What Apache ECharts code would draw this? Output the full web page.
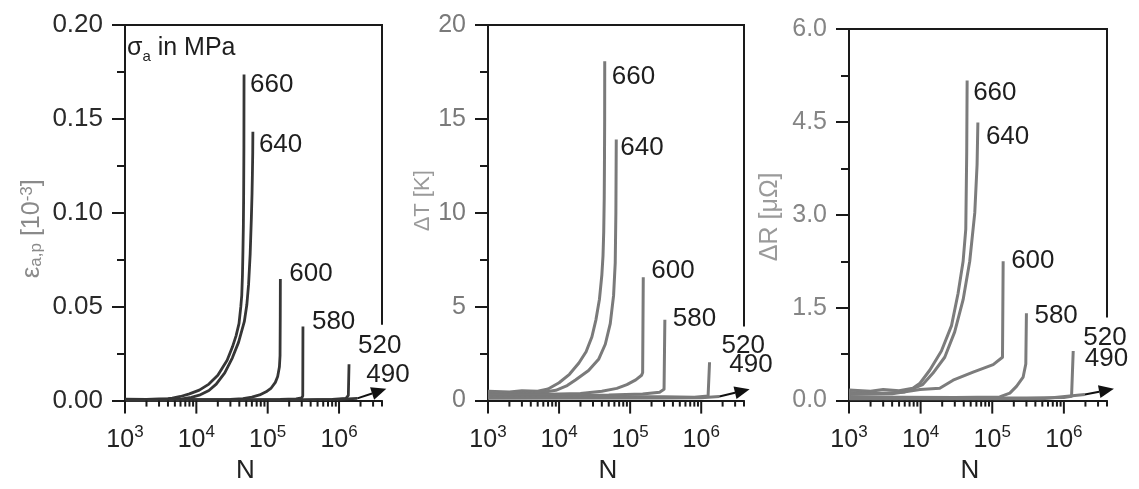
<!DOCTYPE html>
<html><head><meta charset="utf-8">
<script src="https://cdn.jsdelivr.net/npm/echarts@6/dist/echarts.min.js"></script>
<style>html,body{margin:0;padding:0;background:#fff}#c{width:1139px;height:489px}</style>
</head><body><div id="c"></div>
<script>
// ---------- data (N in cycles) ----------
const stressLevels = ['660', '640', '600', '580', '520', '490'];
const xExponents = [3, 4, 5, 6];

// panel 1: plastic strain amplitude eps_a,p [10^-3]
const eps660 = [[1000,0.0008],[2000,0.0007],[3000,0.0009],[4000,0.0011],[4600,0.0013],[6000,0.0022],[8000,0.0036],[11000,0.0056],[15000,0.0088],[20000,0.0135],[27000,0.0215],[32000,0.0285],[36000,0.0345],[39600,0.041],[42000,0.05],[43300,0.056],[44300,0.067],[45000,0.08],[45600,0.093],[46000,0.108],[46400,0.135],[46600,0.1737]];
const eps640 = [[1000,0.0005],[3000,0.0006],[6300,0.0009],[8500,0.0017],[11000,0.0029],[15000,0.0054],[19000,0.0088],[25000,0.0148],[32000,0.0228],[39000,0.031],[47000,0.042],[51000,0.051],[54000,0.062],[56800,0.078],[59000,0.097],[60300,0.11],[61000,0.12],[61700,0.132],[62000,0.1432]];
const eps600 = [[1000,0.0004],[10000,0.0005],[30000,0.0007],[45000,0.0011],[60000,0.0019],[77000,0.003],[95000,0.0047],[112000,0.0067],[128000,0.0097],[138000,0.0128],[146000,0.018],[149000,0.024],[150000,0.045],[150500,0.0648]];
const eps580 = [[1000,0.0003],[50000,0.0004],[150000,0.0006],[250000,0.0009],[300000,0.0014],[310000,0.0025],[312000,0.0395]];
const eps520 = [[1000,0.0003],[300000,0.0004],[800000,0.0007],[1250000,0.0012],[1350000,0.0028],[1380000,0.0194]];
const eps490 = [[1000,0.0002],[200000,0.0003],[1000000,0.0006],[1800000,0.0012]];
const epsRunout = [[1800000,0.0012,4600000,0.0063]];

// panel 2: temperature change dT [K]
const dT660 = [[1000,0.5],[2000,0.46],[3000,0.52],[5000,0.5],[7000,0.62],[10000,0.95],[14000,1.4],[19000,2.0],[24000,2.6],[29000,3.4],[33000,4.3],[37000,5.4],[40000,6.7],[41500,7.7],[42500,9.0],[43200,10.8],[43500,12.5],[43800,15.0],[43900,18.07]];
const dT640 = [[1000,0.42],[3000,0.4],[6000,0.45],[9000,0.55],[13000,0.8],[17000,1.1],[26000,1.6],[36000,2.2],[44700,3.0],[52500,4.1],[58500,5.6],[61700,7.35],[63000,10.0],[63800,13.9]];
const dT600 = [[1000,0.35],[5000,0.33],[20000,0.38],[40000,0.5],[65000,0.65],[90000,0.85],[120000,1.1],[145000,1.35],[150000,1.5],[153000,6.57]];
const dT580 = [[1000,0.28],[50000,0.3],[150000,0.35],[260000,0.45],[300000,0.6],[308000,4.3]];
const dT520 = [[1000,0.2],[300000,0.2],[800000,0.18],[1250000,0.25],[1310000,2.04]];
const dT490 = [[1000,0.12],[300000,0.14],[1000000,0.15],[1800000,0.22]];
const dTRunout = [[1800000,0.22,4800000,0.6]];

// panel 3: electrical resistance change dR [micro-ohm]
const dR660 = [[1000,0.17],[2000,0.15],[3000,0.18],[5000,0.16],[7800,0.2],[9800,0.28],[13400,0.49],[19500,0.8],[27000,1.21],[33300,1.73],[39200,2.25],[42700,2.77],[44000,4.0],[44600,5.17]];
const dR640 = [[1000,0.13],[3000,0.12],[6000,0.14],[10700,0.26],[14800,0.44],[21700,0.7],[29900,1.11],[39200,1.63],[48500,2.25],[57000,3.03],[61400,3.81],[63000,4.49]];
const dR600 = [[1000,0.1],[4000,0.11],[9800,0.18],[18500,0.2],[28400,0.33],[54000,0.46],[103000,0.58],[139000,0.7],[142000,2.25]];
const dR580 = [[1000,0.06],[30000,0.05],[127000,0.06],[176000,0.12],[218000,0.23],[270000,0.38],[294000,0.59],[300000,1.41]];
const dR520 = [[1000,0.04],[300000,0.04],[1000000,0.05],[1280000,0.07],[1350000,0.8]];
const dR490 = [[1000,0.03],[500000,0.03],[1960000,0.1]];
const dRRunout = [[1960000,0.1,5000000,0.19]];

// ---------- styling ----------
const FONT = '"Liberation Sans", Arial, Helvetica, sans-serif';
const AX = '#1a1a1a';
const X_MIN = 1000, X_MAX = 4000000;

const panels = [
  { grid:{left:125, top:25, width:257, height:382}, series:[eps660,eps640,eps600,eps580,eps520,eps490], runout:epsRunout,
    yMax:0.2, yInt:0.05, dec:2, frameCut:0.0404, lineColor:'#363636', lineWidth:2.8, yLabColor:'#2a2a2a', yLabSize:26,
    name:'{e|ε}{sub|a,p}{t| [10}{sup|-3}{t|]}', nameColor:'#8a8a8a', nameSize:25, nameGap:80, namePad:[0,32,0,0],
    labelOffsets:[[6,10],[6,13],[9,-5],[9,-5],[9,-18],[9,-24]] },
  { grid:{left:488, top:25, width:256, height:384}, series:[dT660,dT640,dT600,dT580,dT520,dT490], runout:dTRunout,
    yMax:20, yInt:5, dec:0, frameCut:3.95, lineColor:'#7a7a7a', lineWidth:3, yLabColor:'#7a7a7a', yLabSize:25,
    name:'{t|ΔT [K]}', nameColor:'#9a9a9a', nameSize:22, nameGap:52, namePad:[0,0,0,24],
    labelOffsets:[[7,16],[4,8],[8,-6],[8,-1],[12,-16],[10,-32]] },
  { grid:{left:849, top:29, width:258, height:382}, series:[dR660,dR640,dR600,dR580,dR520,dR490], runout:dRRunout,
    yMax:6, yInt:1.5, dec:1, frameCut:1.34, lineColor:'#7c7c7c', lineWidth:3, yLabColor:'#858585', yLabSize:25,
    name:'{t|ΔR [μΩ]}', nameColor:'#9a9a9a', nameSize:25, nameGap:66, namePad:[0,4,0,0],
    labelOffsets:[[6,12],[8,14],[8,0],[8,3],[10,-13],[0,-36]] }
];

// tick positions for the log axis (decoration)
const xTickVals = [];
for (const e of xExponents) for (let k = 1; k <= 9; k++) { const v = k * Math.pow(10, e); if (v <= X_MAX) xTickVals.push([v, 0]); }

function isPow10(v){ const l = Math.log10(v); return Math.abs(l - Math.round(l)) < 1e-6; }

const grids = [], xAxes = [], yAxes = [], series = [];
panels.forEach((p, i) => {
  grids.push(p.grid);
  const subSize = Math.round(p.nameSize * 0.68);
  xAxes.push({
    type:'log', logBase:10, gridIndex:i, min:X_MIN, max:X_MAX, position:'bottom',
    axisLine:{show:true, onZero:false, lineStyle:{color:AX, width:2}},
    axisTick:{show:false}, splitLine:{show:false}, minorTick:{show:false},
    axisLabel:{margin:23, formatter:(v)=> isPow10(v) ? '{b|10}{s|' + Math.round(Math.log10(v)) + '}' : '',
      rich:{ b:{fontSize:25, lineHeight:34, color:'#222', fontFamily:FONT},
             s:{fontSize:17, lineHeight:15, verticalAlign:'top', color:'#222', fontFamily:FONT} } },
    name:'N', nameLocation:'middle', nameGap:56,
    nameTextStyle:{fontSize:26, color:'#222', fontFamily:FONT, padding:[0,16,0,0]}
  });
  xAxes.push({
    type:'value', gridIndex:i, min:0, max:1, position:'top',
    axisLine:{show:true, onZero:false, lineStyle:{color:AX, width:2}},
    axisTick:{show:false}, axisLabel:{show:false}, splitLine:{show:false}
  });
  yAxes.push({
    type:'value', gridIndex:i, min:0, max:p.yMax, interval:p.yInt,
    axisLine:{show:true, onZero:false, lineStyle:{color:AX, width:2}},
    axisTick:{show:true, length:13, lineStyle:{color:AX, width:2}},
    minorTick:{show:true, splitNumber:2, length:8, lineStyle:{color:AX, width:2}},
    splitLine:{show:false},
    axisLabel:{margin:22, fontSize:p.yLabSize, color:p.yLabColor, fontFamily:FONT, formatter:(v)=> v.toFixed(p.dec)},
    name:p.name, nameLocation:'middle', nameRotate:90, nameGap:p.nameGap,
    nameTextStyle:{padding:p.namePad, rich:{
      e:{fontSize:p.nameSize + 1, color:p.nameColor, fontFamily:FONT},
      t:{fontSize:p.nameSize, color:p.nameColor, fontFamily:FONT},
      sub:{fontSize:subSize, color:p.nameColor, fontFamily:FONT, verticalAlign:'bottom', lineHeight:subSize},
      sup:{fontSize:subSize, color:p.nameColor, fontFamily:FONT, verticalAlign:'top', lineHeight:subSize}
    }}
  });

  const xi = i * 2, yi = i;
  // x ticks (major + minor) on log axis
  series.push({
    type:'custom', xAxisIndex:xi, yAxisIndex:yi, data:xTickVals, silent:true, clip:false, z:5,
    renderItem:(params, api) => {
      const v = api.value(0);
      const pt = api.coord([v, 0]);
      const len = isPow10(v) ? 13 : 6;
      return {type:'line', shape:{x1:pt[0], y1:pt[1], x2:pt[0], y2:pt[1] + len}, style:{stroke:AX, lineWidth:2}};
    }
  });
  // partial right frame line
  series.push({
    type:'custom', xAxisIndex:xi, yAxisIndex:yi, data:[[X_MAX, p.yMax, p.frameCut]], silent:true, clip:false, z:5,
    renderItem:(params, api) => {
      const a = api.coord([api.value(0), api.value(1)]);
      const b = api.coord([api.value(0), api.value(2)]);
      return {type:'line', shape:{x1:a[0], y1:a[1] - 1, x2:b[0], y2:b[1]}, style:{stroke:AX, lineWidth:2}};
    }
  });
  // curves
  p.series.forEach((d, k) => {
    series.push({
      type:'line', xAxisIndex:xi, yAxisIndex:yi, data:d, showSymbol:false, symbol:'none', silent:true,
      lineStyle:{color:p.lineColor, width:p.lineWidth, join:'round'}, itemStyle:{color:p.lineColor}, z:3,
      markPoint:{ symbol:'circle', symbolSize:0, silent:true, animation:false,
        data:[{coord:d[d.length - 1]}],
        label:{show:true, position:'right', distance:0, offset:p.labelOffsets[k], formatter:stressLevels[k],
          fontSize:26, fontFamily:FONT, color:'#1e1e1e'} }
    });
  });
  // run-out arrow
  series.push({
    type:'custom', xAxisIndex:xi, yAxisIndex:yi, data:p.runout, silent:true, clip:false, z:6,
    renderItem:(params, api) => {
      const a = api.coord([api.value(0), api.value(1)]);
      const b = api.coord([api.value(2), api.value(3)]);
      const ang = Math.atan2(b[1] - a[1], b[0] - a[0]);
      const L = 15, W = 6.5;
      const bx = b[0] - L * Math.cos(ang), by = b[1] - L * Math.sin(ang);
      const nx = -Math.sin(ang) * W, ny = Math.cos(ang) * W;
      return {type:'group', children:[
        {type:'line', shape:{x1:a[0], y1:a[1], x2:bx, y2:by}, style:{stroke:'#111', lineWidth:2}},
        {type:'polygon', shape:{points:[[b[0], b[1]], [bx + nx, by + ny], [bx - nx, by - ny]]}, style:{fill:'#111'}}
      ]};
    }
  });
});

const chart = echarts.init(document.getElementById('c'), null, {renderer:'canvas'});
chart.setOption({
  animation:false,
  backgroundColor:'#fff',
  grid:grids, xAxis:xAxes, yAxis:yAxes, series:series,
  graphic:[{type:'text', left:127, top:36, silent:true,
    style:{text:'{s|σ}{sub|a}{t| in MPa}', rich:{
      s:{fontSize:25, lineHeight:31, fill:'#1e1e1e', fontFamily:FONT},
      sub:{fontSize:15, lineHeight:15, verticalAlign:'bottom', fill:'#1e1e1e', fontFamily:FONT},
      t:{fontSize:25, lineHeight:31, fill:'#1e1e1e', fontFamily:FONT}}}}]
});
</script>
</body></html>
